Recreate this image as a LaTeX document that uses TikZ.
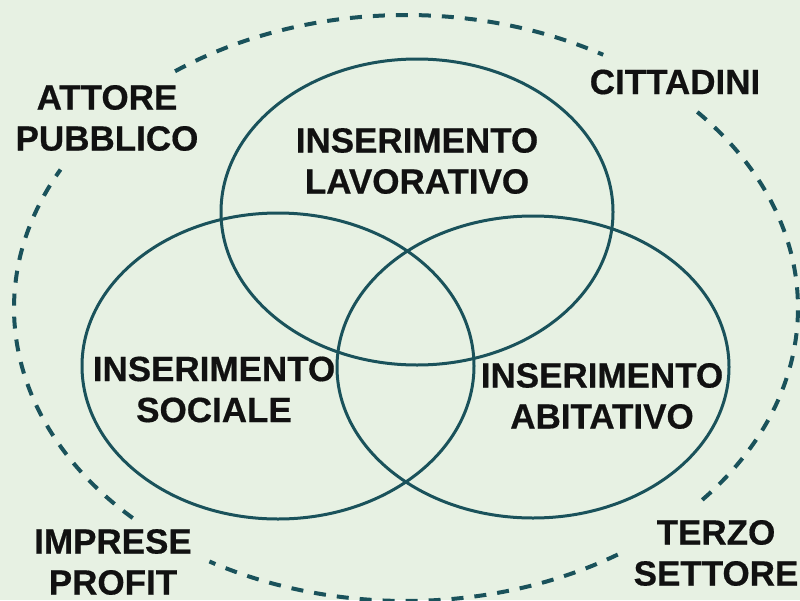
\documentclass[tikz,border=0pt]{standalone}
\usepackage{fontspec}
\setmainfont{Liberation Sans}[BoldFeatures={FakeBold=0.5}]
\definecolor{bgc}{HTML}{E7F1E3}
\definecolor{teal}{HTML}{1A525B}
\definecolor{ink}{HTML}{111111}
\begin{document}
\begin{tikzpicture}[x=1pt,y=-1pt,
  ring/.style={draw=teal, line width=3pt},
  outer/.style={draw=teal, line width=4pt, dash pattern=on 12pt off 11pt},
  lbl/.style={inner sep=0pt, align=center, text=ink,
    font=\fontsize{35}{41}\selectfont\bfseries}]
\fill[bgc] (0,0) rectangle (800,600);
\useasboundingbox (0,0) rectangle (800,600);
% outer dashed ellipse (with gaps at the labels)
\def\ocx{406}\def\ocy{308}\def\orx{392}\def\ory{293}
\draw[outer] plot[domain=57.3:120.1, samples=60] ({\ocx+\orx*cos(\x)},{\ocy+\ory*sin(\x)});
\draw[outer] plot[domain=134.2:208.2, samples=70] ({\ocx+\orx*cos(\x)},{\ocy+\ory*sin(\x)});
\draw[outer] plot[domain=233.9:300.2, samples=60] ({\ocx+\orx*cos(\x)},{\ocy+\ory*sin(\x)});
\draw[outer] plot[domain=318:402, samples=80] ({\ocx+\orx*cos(\x)},{\ocy+\ory*sin(\x)});
% three circles
\coordinate (cl) at (417,212);
\coordinate (cs) at (278,366);
\coordinate (ca) at (533,367);
\draw[ring] (cl) ellipse [x radius=196, y radius=153];
\draw[ring] (cs) ellipse [x radius=196, y radius=153];
\draw[ring] (ca) ellipse [x radius=196, y radius=151];
% labels
\node[lbl] (lav) at (417,161) {INSERIMENTO\\LAVORATIVO};
\node[lbl] (soc) at (214,389.5) {INSERIMENTO\\SOCIALE};
\node[lbl] (abi) at (602,396) {INSERIMENTO\\ABITATIVO};
\node[lbl] (att) at (107,118) {ATTORE\\PUBBLICO};
\node[lbl] (cit) at (675,82) {CITTADINI};
\node[lbl] (ter) at (716,553) {TERZO\\SETTORE};
\node[lbl] (imp) at (113,562) {IMPRESE\\PROFIT};
\end{tikzpicture}
\end{document}
